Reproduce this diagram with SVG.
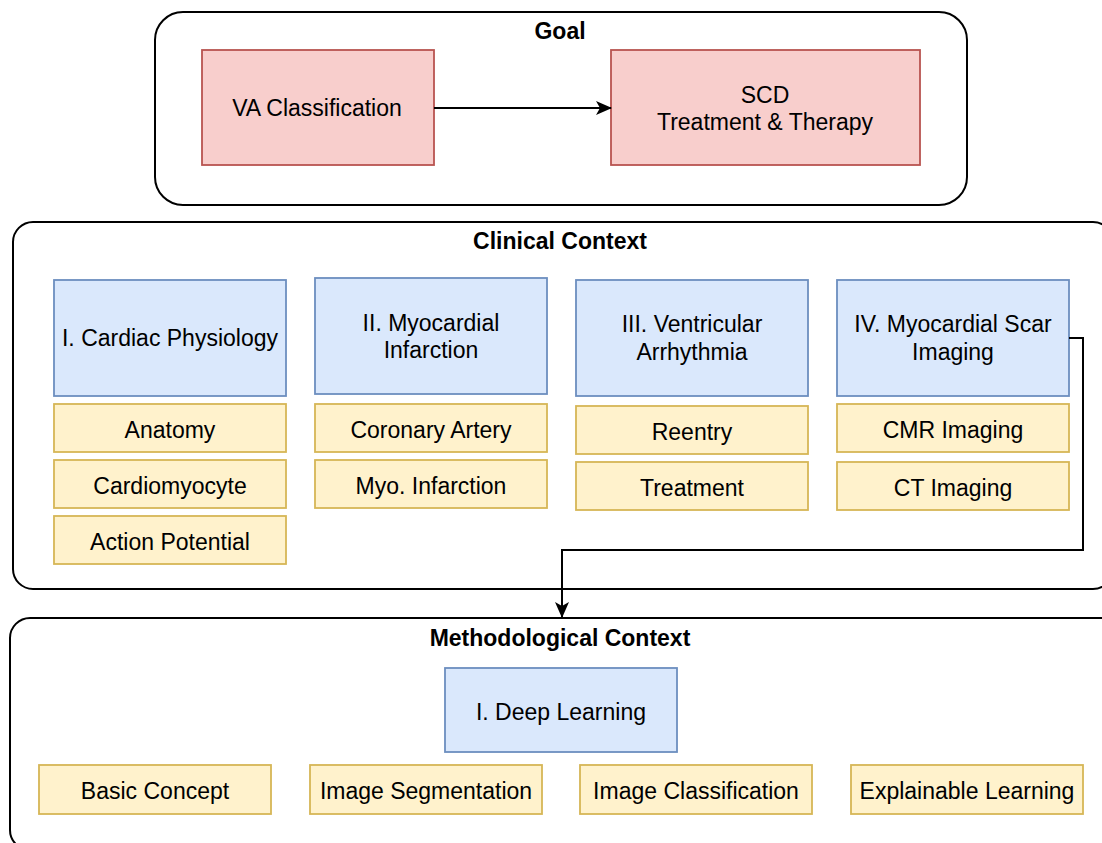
<svg xmlns="http://www.w3.org/2000/svg" width="1102" height="843" viewBox="0 0 1102 843">
<style>
text{font-family:"Liberation Sans",Arial,sans-serif;font-size:23px;fill:#000;text-anchor:middle;dominant-baseline:central}
.title{font-weight:bold}
.cont{fill:#fff;stroke:#000;stroke-width:2}
.red{fill:#f8cecc;stroke:#b85450;stroke-width:1.8}
.blue{fill:#dae8fc;stroke:#6c8ebf;stroke-width:1.8}
.yel{fill:#fff2cc;stroke:#d6b656;stroke-width:1.8}
.edge{fill:none;stroke:#000;stroke-width:2}
</style>
<defs>
<marker id="arr2" markerWidth="16" markerHeight="16" refX="15" refY="8" orient="auto" markerUnits="userSpaceOnUse" viewBox="0 0 16 16">
<path d="M0,1 L16,8 L0,15 L4,8 Z" fill="#000"/>
</marker>
</defs>
<g id="goal">
<rect class="cont" x="155" y="12" width="812" height="193" rx="28"/>
<text class="title" x="560" y="31">Goal</text>
</g>
<g id="clinical">
<rect class="cont" x="13" y="222" width="1100" height="367" rx="20"/>
<text class="title" x="560" y="241">Clinical Context</text>
</g>
<g id="method">
<rect class="cont" x="10" y="618" width="1110" height="232" rx="20"/>
<text class="title" x="560" y="638">Methodological Context</text>
</g>
<g id="va">
<rect class="red" x="202" y="50" width="232" height="115"/>
<text x="317" y="108">VA Classification</text>
</g>
<g id="scd">
<rect class="red" x="611" y="50" width="309" height="115"/>
<text x="765" y="95">SCD</text>
<text x="765" y="122">Treatment &amp; Therapy</text>
</g>
<g id="cardiac">
<rect class="blue" x="54" y="280" width="232" height="116"/>
<text x="170" y="338">I. Cardiac Physiology</text>
</g>
<g id="anatomy"><rect class="yel" x="54" y="404" width="232" height="48"/><text x="170" y="430">Anatomy</text></g>
<g id="cardiomyocyte"><rect class="yel" x="54" y="460" width="232" height="48"/><text x="170" y="486">Cardiomyocyte</text></g>
<g id="action"><rect class="yel" x="54" y="516" width="232" height="48"/><text x="170" y="542">Action Potential</text></g>
<g id="mi">
<rect class="blue" x="315" y="278" width="232" height="116"/>
<text x="431" y="323">II. Myocardial</text>
<text x="431" y="350">Infarction</text>
</g>
<g id="coronary"><rect class="yel" x="315" y="404" width="232" height="48"/><text x="431" y="430">Coronary Artery</text></g>
<g id="myo"><rect class="yel" x="315" y="460" width="232" height="48"/><text x="431" y="486">Myo. Infarction</text></g>
<g id="va2">
<rect class="blue" x="576" y="280" width="232" height="116"/>
<text x="692" y="324">III. Ventricular</text>
<text x="692" y="352">Arrhythmia</text>
</g>
<g id="reentry"><rect class="yel" x="576" y="406" width="232" height="48"/><text x="692" y="432">Reentry</text></g>
<g id="treatment"><rect class="yel" x="576" y="462" width="232" height="48"/><text x="692" y="488">Treatment</text></g>
<g id="scar">
<rect class="blue" x="837" y="280" width="232" height="116"/>
<text x="953" y="324">IV. Myocardial Scar</text>
<text x="953" y="352">Imaging</text>
</g>
<g id="cmr"><rect class="yel" x="837" y="404" width="232" height="48"/><text x="953" y="430">CMR Imaging</text></g>
<g id="ct"><rect class="yel" x="837" y="462" width="232" height="48"/><text x="953" y="488">CT Imaging</text></g>
<g id="dl">
<rect class="blue" x="445" y="668" width="232" height="84"/>
<text x="561" y="712">I. Deep Learning</text>
</g>
<g id="basic"><rect class="yel" x="39" y="765" width="232" height="49"/><text x="155" y="791">Basic Concept</text></g>
<g id="seg"><rect class="yel" x="310" y="765" width="232" height="49"/><text x="426" y="791">Image Segmentation</text></g>
<g id="cls"><rect class="yel" x="580" y="765" width="232" height="49"/><text x="696" y="791">Image Classification</text></g>
<g id="xai"><rect class="yel" x="851" y="765" width="232" height="49"/><text x="967" y="791">Explainable Learning</text></g>
<g id="connectors">
<path class="edge" d="M434,108 L611,108" marker-end="url(#arr2)"/>
<path class="edge" d="M1069,338 L1083,338 L1083,550 L562,550 L562,617" marker-end="url(#arr2)"/>
</g>
</svg>
